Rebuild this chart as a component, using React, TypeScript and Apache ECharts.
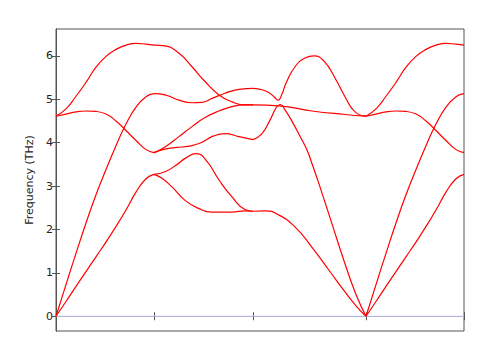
import React, { useEffect, useRef } from "react";
import * as echarts from "echarts";

// high-symmetry points along the path (path distance units)
const symmetryPoints = [0, 98, 197, 310, 408];
const freqTicks = [0, 1, 2, 3, 4, 5, 6];

// Segment 1 (Γ → X), distance 0..98
const s1LO = [[0, 4.61], [10, 4.78], [20, 5.07], [30, 5.39], [40, 5.74], [50, 5.99], [60, 6.15], [70, 6.25], [80, 6.29], [90, 6.27], [98, 6.25]];
const s1TO = [[0, 4.61], [10, 4.66], [20, 4.71], [30, 4.73], [40, 4.72], [50, 4.66], [60, 4.5], [70, 4.28], [80, 4.05], [90, 3.84], [98, 3.77]];
const s1LA = [[0, 0], [10, 0.73], [20, 1.45], [30, 2.15], [40, 2.8], [50, 3.38], [60, 3.93], [70, 4.43], [80, 4.82], [90, 5.06], [98, 5.13]];
const s1TA = [[0, 0], [10, 0.34], [20, 0.69], [30, 1.03], [40, 1.37], [50, 1.71], [60, 2.07], [70, 2.45], [80, 2.86], [90, 3.17], [98, 3.27]];

// Segment 2 (X → W), distance 98..197
const s2Top = [[98, 6.25], [109, 6.23], [123, 6.06], [136, 5.75], [149, 5.41], [163, 5.1], [176, 4.94], [189, 4.87], [197, 4.87]];
const s2B = [[98, 5.13], [109, 5.1], [123, 4.98], [136, 4.92], [146, 4.93], [156, 5.02], [169, 5.14], [183, 5.23], [197, 5.25]];
const s2TOu = [[98, 3.77], [109, 3.9], [123, 4.14], [136, 4.37], [149, 4.58], [163, 4.73], [176, 4.83], [189, 4.87], [197, 4.87]];
const s2TOl = [[98, 3.77], [109, 3.85], [121, 3.89], [133, 3.92], [145, 4.0], [157, 4.15], [169, 4.21], [183, 4.14], [197, 4.07]];
const s2TAu = [[98, 3.27], [109, 3.33], [120, 3.48], [130, 3.65], [140, 3.75], [150, 3.6], [163, 3.14], [176, 2.75], [189, 2.46], [197, 2.42]];
const s2TAl = [[98, 3.27], [106, 3.18], [116, 2.98], [129, 2.67], [143, 2.48], [156, 2.4], [176, 2.4], [189, 2.43], [197, 2.42]];

// Segment 3 (W → Γ), distance 197..310
const s3B = [[197, 5.25], [206, 5.22], [213, 5.15], [218, 5.06], [222, 4.98], [226, 5.12], [230, 5.37], [239, 5.75], [249, 5.95], [258, 6.0], [268, 5.88], [279, 5.49], [289, 5.06], [299, 4.71], [310, 4.61]];
const s3Flat = [[197, 4.87], [223, 4.85], [256, 4.73], [289, 4.65], [310, 4.61]];
const s3TOl = [[197, 4.07], [206, 4.21], [214, 4.52], [220, 4.8], [224, 4.88], [230, 4.72], [237, 4.45], [244, 4.15], [251, 3.83], [257, 3.45], [263, 3.05], [276, 2.13], [289, 1.21], [300, 0.5], [310, 0]];
const s3TA = [[197, 2.42], [209, 2.43], [223, 2.33], [239, 2.06], [256, 1.59], [273, 1.06], [289, 0.56], [300, 0.24], [310, 0]];

// Segment 4 (Γ → end) has the same dispersion as segment 1, starting at 310
const seg4Start = 310;

const zeroLine = [[0, 0], [408, 0]];

export default function App() {
  const ref = useRef<HTMLDivElement>(null);
  useEffect(() => {
    const chart = echarts.init(ref.current!, null, { renderer: "svg" });
    const curves: number[][][] = [
      s1LO, s1TO, s1LA, s1TA,
      s2Top, s2B, s2TOu, s2TOl, s2TAu, s2TAl,
      s3B, s3Flat, s3TOl, s3TA,
      ...[s1LO, s1TO, s1LA, s1TA].map((c) => c.map(([x, y]) => [x + seg4Start, y])),
    ];
    const font = "DejaVu Sans";
    const axisColor = "#555";
    const series: any[] = [
      {
        type: "line",
        data: zeroLine,
        showSymbol: false,
        silent: true,
        lineStyle: { color: "#d2d6ff", width: 1 },
        z: 1,
      },
      ...curves.map((c) => ({
        type: "line",
        data: c,
        smooth: 0.5,
        showSymbol: false,
        silent: true,
        lineStyle: { color: "#ff0000", width: 1.2 },
        z: 2,
      })),
    ];
    chart.setOption({
      animation: false,
      grid: { left: 56, top: 29, right: 31, bottom: 31, show: true, borderColor: axisColor, borderWidth: 1 },
      xAxis: [
        {
          type: "value", min: 0, max: 408, position: "bottom",
          axisLine: { show: true, lineStyle: { color: axisColor } },
          axisTick: { show: true, inside: true, length: 4, customValues: symmetryPoints, lineStyle: { color: axisColor } },
          axisLabel: { show: false },
          splitLine: { show: false },
        },
        {
          type: "value", min: 0, max: 408, position: "top",
          axisLine: { show: true, lineStyle: { color: axisColor } },
          axisTick: { show: true, inside: true, length: 4, customValues: symmetryPoints, lineStyle: { color: axisColor } },
          axisLabel: { show: false },
          splitLine: { show: false },
        },
      ],
      yAxis: [
        {
          type: "value", min: -0.34, max: 6.62, position: "left",
          name: "Frequency (THz)", nameLocation: "middle", nameGap: 13,
          nameTextStyle: { fontFamily: font, fontSize: 11, color: "#222" },
          axisLine: { show: true, lineStyle: { color: axisColor } },
          axisTick: { show: true, inside: true, length: 4, customValues: freqTicks, lineStyle: { color: axisColor } },
          axisLabel: { show: true, customValues: freqTicks, fontFamily: font, fontSize: 11, color: "#222", margin: 3 },
          splitLine: { show: false },
        },
        {
          type: "value", min: -0.34, max: 6.62, position: "right",
          axisLine: { show: true, lineStyle: { color: axisColor } },
          axisTick: { show: true, inside: true, length: 4, customValues: freqTicks, lineStyle: { color: axisColor } },
          axisLabel: { show: false },
          splitLine: { show: false },
        },
      ],
      series,
    });
    return () => chart.dispose();
  }, []);
  return <div ref={ref} style={{ position: "fixed", left: 0, top: 0, width: 495, height: 362, background: "#fff" }} />;
}
